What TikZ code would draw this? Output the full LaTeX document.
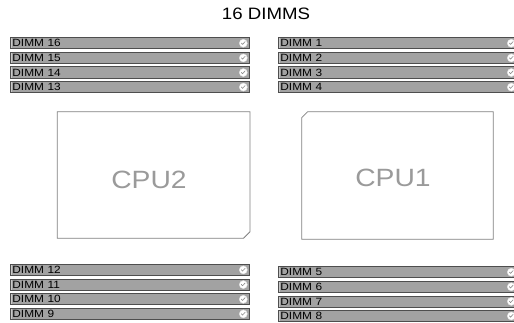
\documentclass[tikz,border=0pt]{standalone}
\usepackage{fontspec}
\setmainfont{Liberation Sans}[FakeStretch=1.13]
\definecolor{slotfill}{HTML}{A2A2A2}
\definecolor{slotline}{HTML}{4E4E4E}
\definecolor{slotinner}{HTML}{C8C8C8}
\definecolor{cpuline}{HTML}{808080}
\definecolor{cputext}{HTML}{9A9A9A}
\definecolor{chkline}{HTML}{8A8A8A}
\tikzset{
  slotbox/.style={draw=slotline, fill=slotfill, line width=0.8pt, rectangle,
    anchor=north west, inner xsep=2pt, inner ysep=0pt, text width=235pt, align=left,
    minimum height=#1, font=\fontsize{10.5}{11}\selectfont, text=black,
    path picture={\draw[slotinner, line width=0.6pt]
      ([xshift=1.3pt]path picture bounding box.north west) --
      ([xshift=1.3pt]path picture bounding box.south west);}},
  slotbox/.default=11.3pt,
  chkmark/.style={circle, fill=white, draw=white!80!gray, line width=0.4pt,
    minimum size=8pt, inner sep=0pt,
    path picture={\draw[chkline, line width=0.6pt, line cap=round, line join=round]
      ([shift={(-2pt,0.2pt)}]path picture bounding box.center) -- ++(1.2pt,-1.4pt) -- ++(2.6pt,2.8pt);}},
  cpubox/.style={draw=cpuline, line width=0.8pt},
  cpulabel/.style={text=cputext, font=\fontsize{25}{28}\selectfont, inner sep=0pt}
}
\begin{document}
\begin{tikzpicture}[x=1pt, y=-1pt]
\useasboundingbox (0,0) rectangle (514,323);
\node[font=\fontsize{16.5}{18}\selectfont, inner sep=0pt] (title) at (266,13.5) {16 DIMMS};
% top-left
\foreach \n/\y in {16/37.2, 15/51.9, 14/66.5, 13/81.1} {
  \node[slotbox] (s\n) at (10,\y) {DIMM \n};
  \node[chkmark] (c\n) at ([xshift=-6.5pt]s\n.east) {};
}
% top-right
\foreach \n/\y in {1/37.2, 2/51.9, 3/66.5, 4/81.1} {
  \node[slotbox] (s\n) at (278,\y) {DIMM \n};
  \node[chkmark] (c\n) at ([xshift=-6.5pt]s\n.east) {};
}
% bottom-left
\foreach \n/\y in {12/264, 11/278.7, 10/293.4, 9/308} {
  \node[slotbox=11pt] (s\n) at (10,\y) {DIMM \n};
  \node[chkmark] (c\n) at ([xshift=-6.5pt]s\n.east) {};
}
% bottom-right
\foreach \n/\y in {5/266.3, 6/280.9, 7/295.5, 8/310.1} {
  \node[slotbox=11pt] (s\n) at (278,\y) {DIMM \n};
  \node[chkmark] (c\n) at ([xshift=-6.5pt]s\n.east) {};
}
% CPUs
\draw[cpubox] (57.3,111.7) -- (250,111.7) -- (250,231.7) -- (243.5,238.3) -- (57.3,238.3) -- cycle;
\node[cpulabel] (cpu2) at (149,180) {CPU2};
\draw[cpubox] (301.7,117.7) -- (307.7,111.7) -- (493.3,111.7) -- (493.3,239.3) -- (301.7,239.3) -- cycle;
\node[cpulabel] (cpu1) at (393,178) {CPU1};
\end{tikzpicture}
\end{document}
